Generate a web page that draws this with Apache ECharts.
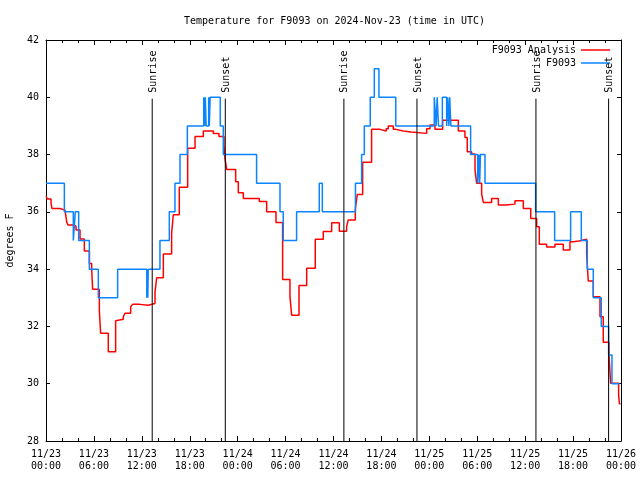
<!DOCTYPE html>
<html>
<head>
<meta charset="utf-8">
<script src="https://cdn.jsdelivr.net/npm/echarts@6/dist/echarts.min.js"></script>
<style>html,body{margin:0;padding:0;background:#fff}#c{width:640px;height:480px}</style>
</head>
<body>
<div id="c"></div>
<script>
// hours since 2024-11-23 00:00 UTC
const xTickLabels = ["11/23\n00:00","11/23\n06:00","11/23\n12:00","11/23\n18:00","11/24\n00:00","11/24\n06:00","11/24\n12:00","11/24\n18:00","11/25\n00:00","11/25\n06:00","11/25\n12:00","11/25\n18:00","11/26\n00:00"];
const yTicks = [28, 30, 32, 34, 36, 38, 40, 42];

const sunTimes = [13.3, 22.45, 37.3, 46.45, 61.35, 70.45];
const sunLabels = ["Sunrise", "Sunset", "Sunrise", "Sunset", "Sunrise", "Sunset"];

const analysisTimes = [0, 0.17, 0.63, 0.75, 1.75, 2.38, 2.59, 2.75, 3.42, 3.76, 4.26, 4.80, 5.43, 5.72, 5.84, 6.68, 6.84, 7.80, 8.72, 8.93, 9.68, 9.89, 10.6, 10.85, 11.77, 12.81, 13.65, 13.86, 14.69, 15.73, 15.94, 16.69, 17.74, 18.66, 19.70, 20.95, 21.66, 22.28, 22.41, 22.62, 23.75, 24.08, 24.71, 26.71, 27.63, 28.80, 29.63, 30.55, 30.76, 31.68, 32.64, 33.72, 34.72, 35.77, 36.73, 37.64, 37.85, 38.73, 38.98, 39.65, 40.77, 41.82, 42.60, 42.86, 43.49, 43.82, 44.74, 45.70, 47.66, 48.08, 48.71, 49.67, 51.63, 52.46, 52.75, 53.30, 53.72, 53.92, 54.55, 54.76, 55.80, 56.64, 57.60, 58.72, 59.77, 60.70, 61.44, 61.77, 62.69, 63.73, 64.77, 65.61, 66.03, 66.74, 67.70, 67.90, 68.53, 69.37, 69.78, 70.49, 70.70, 71.70, 71.80, 71.95];
const analysisTemps = [36.55, 36.45, 36.3, 36.12, 36.06, 36.0, 35.65, 35.54, 35.5, 35.37, 35.05, 34.63, 34.2, 34.0, 33.3, 32.55, 31.76, 31.12, 32.2, 32.25, 32.34, 32.46, 32.69, 32.77, 32.74, 32.8, 33.2, 33.7, 34.53, 35.25, 35.9, 36.86, 38.22, 38.63, 38.82, 38.74, 38.63, 38.33, 37.87, 37.48, 37.05, 36.67, 36.47, 36.36, 36.0, 35.63, 33.64, 33.04, 32.39, 33.43, 34.03, 35.04, 35.31, 35.62, 35.32, 35.48, 35.72, 36.1, 36.61, 37.73, 38.88, 38.82, 38.9, 39.0, 38.88, 38.82, 38.79, 38.74, 38.9, 39.03, 38.88, 39.2, 38.82, 38.6, 38.1, 38.02, 37.46, 37.0, 36.62, 36.33, 36.47, 36.24, 36.27, 36.39, 36.12, 35.77, 35.48, 34.87, 34.77, 34.87, 34.67, 34.96, 34.98, 35.04, 34.53, 33.59, 33.04, 32.34, 31.45, 31.04, 30.02, 29.6, 29.3, 29.3];

const obsTimes = [0, 2.30, 3.42, 3.67, 4.09, 5.43, 6.55, 8.97, 12.62, 12.68, 12.75, 12.80, 14.27, 15.44, 16.15, 16.78, 17.70, 19.75, 19.85, 19.95, 20.05, 20.37, 20.45, 20.55, 21.82, 22.20, 26.37, 29.30, 29.71, 31.38, 34.22, 34.60, 38.75, 39.52, 39.86, 40.60, 41.11, 41.69, 43.80, 48.62, 48.85, 48.98, 49.15, 49.63, 50.17, 50.30, 50.45, 50.55, 50.70, 53.17, 54.05, 54.20, 54.30, 54.40, 54.97, 61.31, 63.69, 65.69, 67.03, 67.78, 68.53, 69.53, 70.45, 70.87, 71.80];
const obsTemps = [37, 36, 35, 36, 35, 34, 33, 34, 33, 34, 33, 34, 35, 36, 37, 38, 39, 40, 39, 40, 39, 40, 39, 40, 39, 38, 37, 36, 35, 36, 37, 36, 37, 38, 39, 40, 41, 40, 39, 40, 39, 40, 39, 40, 39, 40, 39, 40, 39, 38, 37, 38, 37, 38, 37, 36, 35, 36, 35, 34, 33, 32, 31, 30, 30];

const FONT = 'DejaVu Sans Mono';
const chart = echarts.init(document.getElementById('c'), null, {renderer: 'canvas'});

const baseX = {
  type: 'value', min: 0, max: 72, interval: 6,
  axisLine: {show: true, onZero: false, lineStyle: {color: '#000', width: 1}},
  axisTick: {show: true, inside: true, length: 5, lineStyle: {color: '#000'}},
  minorTick: {show: true, splitNumber: 3, length: 3, lineStyle: {color: '#000'}},
  splitLine: {show: false}
};
const baseY = {
  type: 'value', min: 28, max: 42, interval: 2,
  axisLine: {show: true, onZero: false, lineStyle: {color: '#000', width: 1}},
  axisTick: {show: true, inside: true, length: 4, lineStyle: {color: '#000'}},
  splitLine: {show: false}
};
const legendBase = {
  right: 30, align: 'right', selectedMode: false, padding: 0,
  icon: 'rect', itemWidth: 29, itemHeight: 1.5, itemGap: 0,
  textStyle: {fontFamily: FONT, fontSize: 10, color: '#000'}
};

chart.setOption({
  animation: false,
  backgroundColor: '#fff',
  title: {
    text: 'Temperature for F9093 on 2024-Nov-23 (time in UTC)',
    left: 179, top: 11,
    textStyle: {fontFamily: FONT, fontSize: 10, fontWeight: 'normal', color: '#000'}
  },
  grid: {left: 46, right: 19, top: 40, bottom: 39, containLabel: false, outerBoundsMode: 'none'},
  legend: [
    Object.assign({}, legendBase, {data: ['F9093 Analysis'], top: 45}),
    Object.assign({}, legendBase, {data: ['F9093'], top: 58})
  ],
  xAxis: [
    Object.assign({}, baseX, {
      position: 'bottom',
      axisLabel: {show: true, margin: 7, lineHeight: 12, fontFamily: FONT, fontSize: 10, color: '#000',
        formatter: v => xTickLabels[Math.round(v / 6)]}
    }),
    Object.assign({}, baseX, {position: 'top', axisLabel: {show: false}})
  ],
  yAxis: [
    Object.assign({}, baseY, {
      position: 'left',
      name: 'degrees F', nameLocation: 'middle', nameGap: 31, nameRotate: 90,
      nameTextStyle: {fontFamily: FONT, fontSize: 10, color: '#000'},
      axisLabel: {show: true, margin: 7, fontFamily: FONT, fontSize: 10, color: '#000',
        formatter: v => yTicks.indexOf(v) >= 0 ? String(v) : ''}
    }),
    Object.assign({}, baseY, {position: 'right', axisLabel: {show: false}})
  ],
  series: [
    {
      name: 'F9093 Analysis', type: 'line', step: 'end', xAxisIndex: 0, yAxisIndex: 0,
      symbol: 'none', showSymbol: false, z: 3,
      lineStyle: {color: '#ff0000', width: 1.5}, itemStyle: {color: '#ff0000'},
      data: analysisTimes.map((t, i) => [t, analysisTemps[i]])
    },
    {
      name: 'F9093', type: 'line', step: 'end', xAxisIndex: 0, yAxisIndex: 0,
      symbol: 'none', showSymbol: false, z: 4,
      lineStyle: {color: '#0a84ff', width: 1.5}, itemStyle: {color: '#0a84ff'},
      data: obsTimes.map((t, i) => [t, obsTemps[i]])
    },
    {
      name: 'sun', type: 'custom', xAxisIndex: 0, yAxisIndex: 0, z: 5,
      data: sunTimes.map(t => [t]),
      renderItem: function (params, api) {
        const x = api.value(0);
        const p0 = api.coord([x, 28]);
        const p1 = api.coord([x, 39.95]);
        return {
          type: 'group',
          children: [
            {type: 'line', shape: {x1: p0[0], y1: p0[1], x2: p1[0], y2: p1[1]},
             style: {stroke: '#000', lineWidth: 1}},
            {type: 'text', x: p1[0] + 1, y: p1[1] - 6, rotation: Math.PI / 2,
             style: {text: sunLabels[params.dataIndex], fontFamily: FONT, fontSize: 10, fill: '#000',
                     align: 'left', verticalAlign: 'middle'}}
          ]
        };
      }
    }
  ]
});
</script>
</body>
</html>
